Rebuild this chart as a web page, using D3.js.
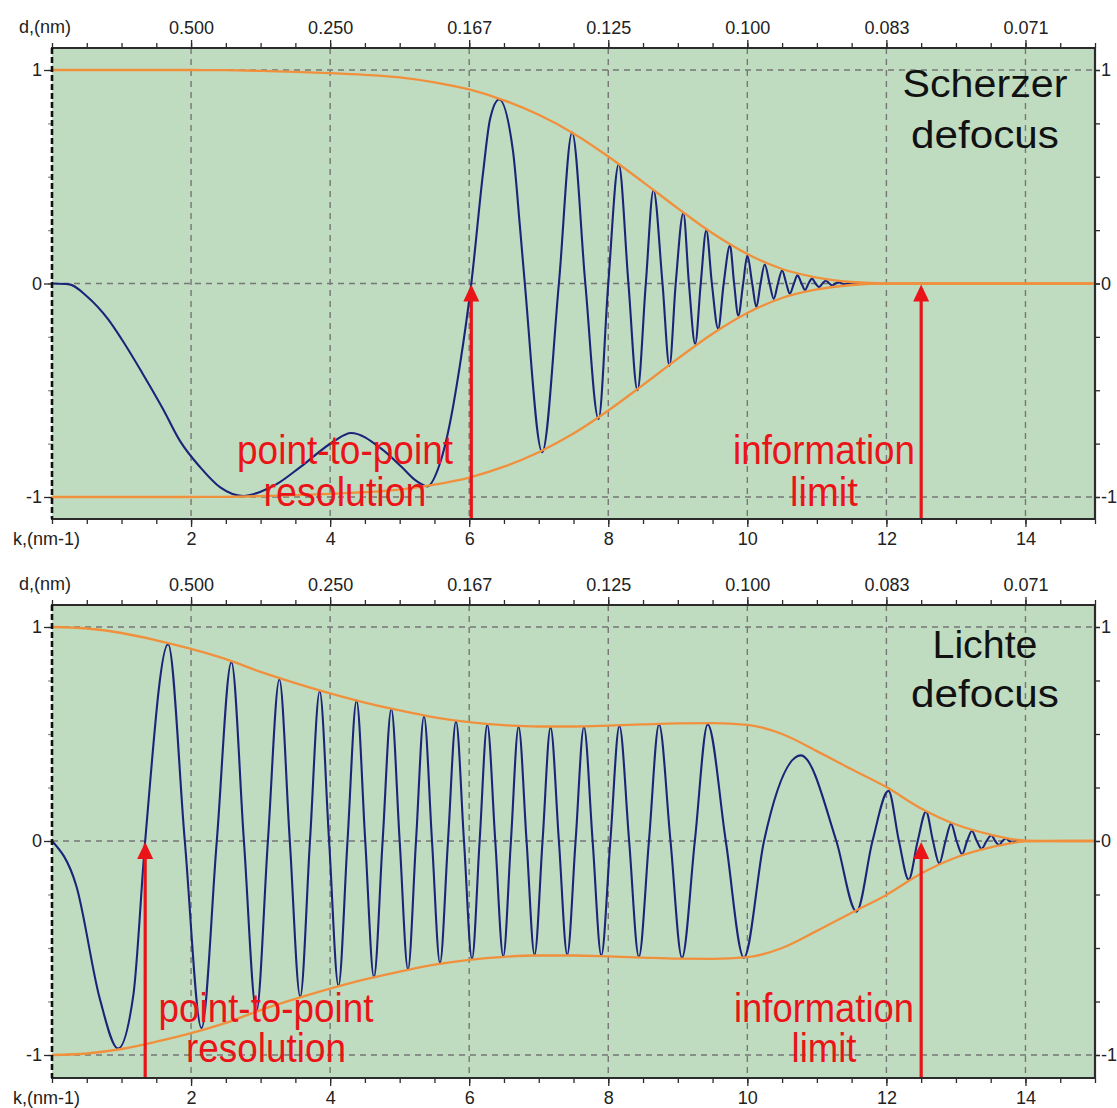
<!DOCTYPE html>
<html><head><meta charset="utf-8">
<script src="https://cdn.jsdelivr.net/npm/d3@7"></script>
<style>
body{margin:0;background:#fff;}
svg{display:block;font-family:Arial,"Liberation Sans",sans-serif;}
</style>
</head><body>
<svg id="chart" width="1117" height="1108"></svg>
<script>
// ---------------- data ----------------
const kDomain = [0, 15];
const kMajor = [2, 4, 6, 8, 10, 12, 14];
const dLabels = ["0.500", "0.250", "0.167", "0.125", "0.100", "0.083", "0.071"];
const yMajor = [1, 0, -1];
const yLabels = ["1", "0", "-1"];
const topTitle = "d,(nm)";
const bottomTitle = "k,(nm-1)";

// Scherzer defocus: CTF (k, value)
const scherzerCTF = [
  [0,0],[0.25,-0.004],[0.5,-0.06],[0.8,-0.165],[1.0,-0.26],[1.3,-0.42],[1.6,-0.59],
  [1.84,-0.737],[2.13,-0.86],[2.42,-0.955],[2.75,-0.995],[3.0,-0.975],[3.23,-0.94],
  [3.57,-0.86],[4.05,-0.74],[4.3,-0.70],[4.74,-0.775],[5.03,-0.86],[5.22,-0.92],
  [5.4,-0.95],[5.55,-0.87],[5.68,-0.72],[5.87,-0.375],[6.03,0],[6.2,0.52],[6.3,0.77],
  [6.43,0.862],[6.63,0.62],[6.73,0.265],[6.8,0],[7.05,-0.79],[7.29,0],[7.48,0.707],
  [7.67,0],[7.86,-0.635],[8.0,0],[8.15,0.559],[8.29,0],[8.42,-0.50],[8.54,0],
  [8.65,0.437],[8.78,0],[8.88,-0.385],[8.97,0],[9.08,0.33],[9.16,0],[9.25,-0.283],
  [9.33,0],[9.41,0.249],[9.49,0],[9.58,-0.212],[9.66,0],[9.75,0.178],[9.81,0],
  [9.87,-0.15],[9.94,0],[10.0,0.131],[10.07,0],[10.13,-0.11],[10.19,0],[10.25,0.089],
  [10.32,0],[10.38,-0.072],[10.44,0],[10.5,0.061],[10.56,0],[10.61,-0.048],[10.67,0],
  [10.72,0.038],[10.78,0],[10.83,-0.03],[10.88,0],[10.93,0.023],[10.98,0],[11.03,-0.017],
  [11.08,0],[11.13,0.013],[11.18,0],[11.22,-0.009],[11.27,0],[11.31,0.006],[11.36,0],
  [11.40,-0.004],[11.44,0],[11.48,0.002],[11.54,0],[11.6,0]
];
const scherzerEnvelope = [
  [0,1],[1,1],[2,1],[2.5,0.999],[3,0.996],[3.5,0.991],[4,0.985],[4.5,0.977],[5,0.965],
  [5.5,0.942],[6,0.909],[6.5,0.858],[7,0.79],[7.5,0.703],[8,0.595],[8.5,0.475],
  [9,0.352],[9.5,0.235],[10,0.138],[10.5,0.068],[11,0.028],[11.5,0.007],[12,0],
  [13,0],[14,0],[15,0]
];
const scherzerMarkers = [6.03, 12.5];

// Lichte defocus
const lichteCTF = [
  [0,0],[0.35,-0.21],[0.69,-0.74],[0.95,-0.97],[1.17,-0.72],[1.34,0],[1.67,0.92],[1.91,0],
  [2.15,-0.875],[2.37,0],[2.58,0.836],[2.76,0],[2.94,-0.795],[3.105,0],[3.27,0.755],
  [3.42,0],[3.57,-0.728],[3.71,0],[3.85,0.70],[3.985,0],[4.12,-0.677],[4.25,0],
  [4.38,0.656],[4.505,0],[4.63,-0.636],[4.755,0],[4.88,0.617],[5.0,0],[5.12,-0.60],
  [5.235,0],[5.35,0.583],[5.465,0],[5.58,-0.57],[5.695,0],[5.81,0.559],[5.925,0],
  [6.04,-0.551],[6.15,0],[6.26,0.544],[6.375,0],[6.49,-0.539],[6.6,0],[6.71,0.534],
  [6.825,0],[6.94,-0.532],[7.055,0],[7.17,0.531],[7.29,0],[7.41,-0.531],[7.53,0],
  [7.65,0.533],[7.775,0],[7.9,-0.535],[8.03,0],[8.16,0.538],[8.3,0],[8.44,-0.541],
  [8.585,0],[8.73,0.545],[8.895,0],[9.06,-0.546],[9.245,0],[9.43,0.545],[9.69,0],
  [9.95,-0.545],[10.24,0],[10.77,0.40],[11.28,0],[11.57,-0.33],[11.8,0],[12.03,0.234],
  [12.18,0],[12.32,-0.18],[12.45,0],[12.57,0.1375],[12.67,0],[12.76,-0.105],[12.85,0],
  [12.93,0.081],[13.01,0],[13.09,-0.062],[13.16,0],[13.23,0.047],[13.30,0],[13.37,-0.036],
  [13.44,0],[13.51,0.027],[13.565,0],[13.62,-0.019],[13.67,0],[13.72,0.013],[13.765,0],
  [13.81,-0.009],[13.855,0],[13.9,0.005],[13.95,0],[14.0,0]
];
const lichteEnvelope = [
  [0,1],[0.5,0.993],[1,0.972],[1.5,0.938],[2,0.898],[2.5,0.85],[3,0.79],[3.5,0.738],
  [4,0.69],[4.5,0.647],[5,0.61],[5.5,0.578],[6,0.555],[6.5,0.541],[7,0.535],[7.5,0.535],
  [8,0.539],[8.5,0.545],[9,0.55],[9.5,0.551],[10,0.543],[10.5,0.5],[11,0.42],[11.5,0.335],
  [12,0.252],[12.5,0.152],[13,0.077],[13.5,0.03],[14,0.002],[14.5,0],[15,0]
];
const lichteMarkers = [1.34, 12.5];

const markerTexts = [["point-to-point", "resolution"], ["information", "limit"]];
const scherzerTitle = ["Scherzer", "defocus"];
const lichteTitle = ["Lichte", "defocus"];

// ---------------- drawing ----------------
const svg = d3.select("#chart");
const C = {bg:"#c0dcc0", grid:"#767676", blue:"#1b2479", orange:"#f0903c", red:"#ea1418", axis:"#2b2b2b"};
const x = d3.scaleLinear().domain(kDomain).range([52, 1095]);
const minorK = d3.range(0, 15.001, 0.5);
const minorY = d3.range(-1, 1.001, 0.25);

function drawPanel(p) {
  const y = d3.scaleLinear().domain([-1, 1]).range([p.yMinus1, p.yPlus1]);
  const g = svg.append("g");
  const [x0, x1] = x.range();

  g.append("rect").attr("x", x0).attr("y", p.top).attr("width", x1 - x0)
    .attr("height", p.bottom - p.top).attr("fill", C.bg);

  // grid
  g.append("g").selectAll("line").data(kMajor).join("line")
    .attr("x1", d => x(d)).attr("x2", d => x(d)).attr("y1", p.top).attr("y2", p.bottom)
    .attr("stroke", C.grid).attr("stroke-width", 1.4).attr("stroke-dasharray", "6,5");
  g.append("g").selectAll("line").data(yMajor).join("line")
    .attr("x1", x0).attr("x2", x1).attr("y1", d => y(d)).attr("y2", d => y(d))
    .attr("stroke", C.grid).attr("stroke-width", 1.4).attr("stroke-dasharray", "6,5");

  const ctfLine = d3.line().x(d => x(d[0])).y(d => y(d[1])).curve(d3.curveMonotoneX);
  const envLine = d3.line().x(d => x(d[0])).y(d => y(d[1])).curve(d3.curveMonotoneX);

  g.append("path").datum(p.ctf).attr("d", ctfLine).attr("fill", "none")
    .attr("stroke", C.blue).attr("stroke-width", 2.1).attr("stroke-linejoin", "round");
  g.append("path").datum(p.env).attr("d", envLine).attr("fill", "none")
    .attr("stroke", C.orange).attr("stroke-width", 2.3);
  g.append("path").datum(p.env.map(d => [d[0], -d[1]])).attr("d", envLine).attr("fill", "none")
    .attr("stroke", C.orange).attr("stroke-width", 2.3);

  // axes
  function styleAxis(sel) {
    sel.select(".domain").remove();
    sel.selectAll("line").attr("stroke", C.axis).attr("stroke-width", 1.3);
    sel.selectAll("text").attr("fill", "#222").style("font-size", "18px")
      .style("font-family", "Arial, 'Liberation Sans', sans-serif");
  }
  g.append("g").attr("transform", `translate(0,${p.top})`)
    .call(d3.axisTop(x).tickValues(minorK).tickSize(5).tickFormat("")).call(styleAxis);
  g.append("g").attr("transform", `translate(0,${p.top})`)
    .call(d3.axisTop(x).tickValues(kMajor).tickSize(8).tickPadding(6)
      .tickFormat((d, i) => dLabels[i])).call(styleAxis);
  g.append("g").attr("transform", `translate(0,${p.bottom})`)
    .call(d3.axisBottom(x).tickValues(minorK).tickSize(5).tickFormat("")).call(styleAxis);
  g.append("g").attr("transform", `translate(0,${p.bottom})`)
    .call(d3.axisBottom(x).tickValues(kMajor).tickSize(8).tickPadding(5)
      .tickFormat(d => d)).call(styleAxis);
  g.append("g").attr("transform", `translate(${x0},0)`)
    .call(d3.axisLeft(y).tickValues(minorY).tickSize(4).tickFormat("")).call(styleAxis)
    .selectAll("line").attr("stroke", "#8a9a8a");
  g.append("g").attr("transform", `translate(${x0},0)`)
    .call(d3.axisLeft(y).tickValues(yMajor).tickSize(8).tickPadding(2)
      .tickFormat((d, i) => yLabels[i])).call(styleAxis);
  g.append("g").attr("transform", `translate(${x1},0)`)
    .call(d3.axisRight(y).tickValues(minorY).tickSize(5).tickFormat("")).call(styleAxis);
  g.append("g").attr("transform", `translate(${x1},0)`)
    .call(d3.axisRight(y).tickValues(yMajor).tickSize(5).tickPadding(1)
      .tickFormat((d, i) => yLabels[i])).call(styleAxis);

  // frame
  g.append("line").attr("x1", x0 - 1).attr("x2", x1 + 1).attr("y1", p.top).attr("y2", p.top)
    .attr("stroke", C.axis).attr("stroke-width", 2.2);
  g.append("line").attr("x1", x0 - 1).attr("x2", x1 + 1).attr("y1", p.bottom).attr("y2", p.bottom)
    .attr("stroke", C.axis).attr("stroke-width", 2.2);
  g.append("line").attr("x1", x1).attr("x2", x1).attr("y1", p.top).attr("y2", p.bottom)
    .attr("stroke", C.axis).attr("stroke-width", 2.2);
  g.append("line").attr("x1", x0).attr("x2", x0).attr("y1", p.top).attr("y2", p.bottom)
    .attr("stroke", "#111").attr("stroke-width", 2.6).attr("stroke-dasharray", "6,3");

  // axis titles
  g.append("text").attr("x", 19).attr("y", p.top - 15).text(topTitle)
    .style("font-size", "18px").attr("fill", "#222");
  g.append("text").attr("x", 13).attr("y", p.bottom + 26).text(bottomTitle)
    .style("font-size", "18px").attr("fill", "#222");

  // markers (arrows)
  p.markers.forEach(k => {
    const xm = x(k), tip = y(0) + 1;
    g.append("line").attr("x1", xm).attr("x2", xm).attr("y1", tip + 12).attr("y2", p.bottom - 1)
      .attr("stroke", C.red).attr("stroke-width", 3.2);
    g.append("path").attr("d", `M${xm},${tip} L${xm - 8},${tip + 17} L${xm + 8},${tip + 17} Z`)
      .attr("fill", C.red);
  });

  // marker labels
  p.labels.forEach(lab => {
    lab.lines.forEach((t, i) => {
      g.append("text").attr("x", lab.cx).attr("y", lab.base[i]).attr("text-anchor", "middle")
        .attr("textLength", lab.w[i]).attr("lengthAdjust", "spacingAndGlyphs")
        .style("font-size", lab.size + "px").attr("fill", lab.color).text(t);
    });
  });
}

drawPanel({
  top: 48, bottom: 519, yPlus1: 70, yMinus1: 497,
  ctf: scherzerCTF, env: scherzerEnvelope, markers: scherzerMarkers,
  labels: [
    {lines: markerTexts[0], cx: 345, base: [464, 506], w: [216, 163], size: 40, color: C.red},
    {lines: markerTexts[1], cx: 824, base: [464, 506], w: [182, 68], size: 40, color: C.red},
    {lines: scherzerTitle, cx: 985, base: [97, 148], w: [165, 148], size: 39, color: "#111"}
  ]
});
drawPanel({
  top: 605, bottom: 1078, yPlus1: 627, yMinus1: 1055,
  ctf: lichteCTF, env: lichteEnvelope, markers: lichteMarkers,
  labels: [
    {lines: markerTexts[0], cx: 266, base: [1022, 1062], w: [215, 160], size: 40, color: C.red},
    {lines: markerTexts[1], cx: 824, base: [1022, 1062], w: [180, 65], size: 40, color: C.red},
    {lines: lichteTitle, cx: 985, base: [658, 707], w: [105, 148], size: 39, color: "#111"}
  ]
});
</script>
</body></html>
